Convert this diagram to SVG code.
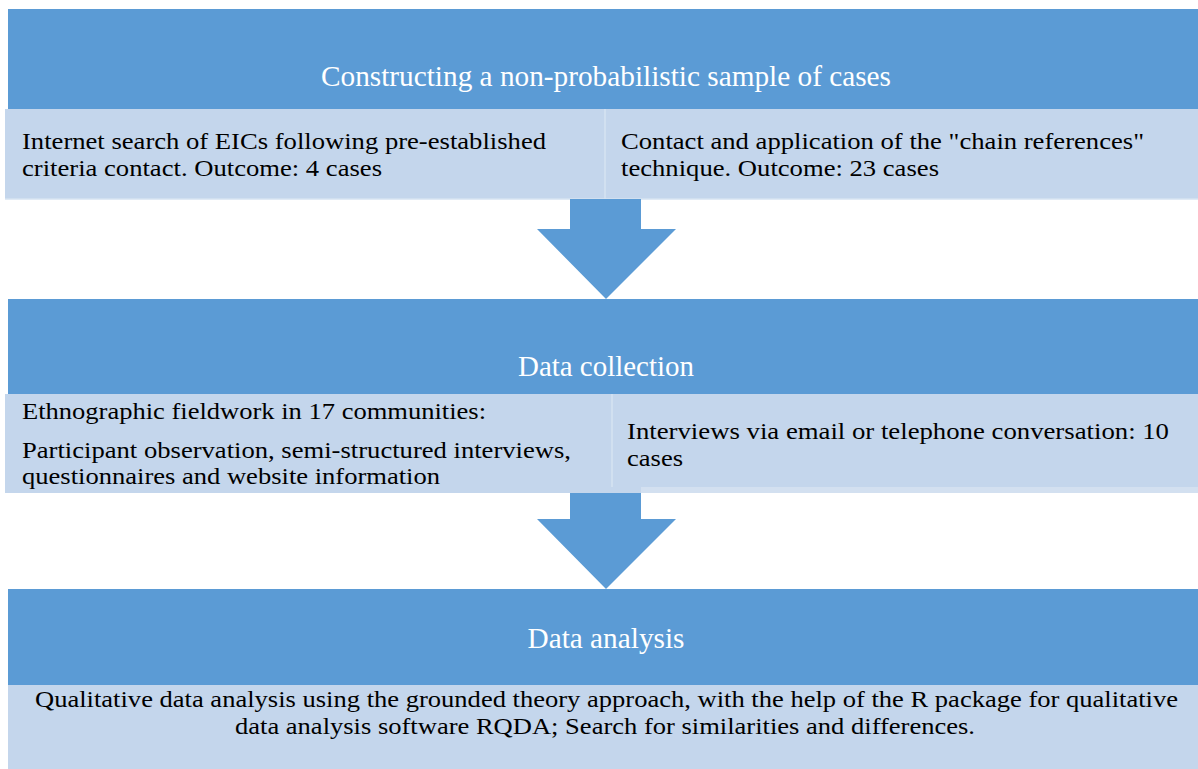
<svg xmlns="http://www.w3.org/2000/svg" width="1198" height="769" viewBox="0 0 1198 769">
<style>
.hdr{fill:#5b9bd5}
.sub{fill:#c4d6ec}
.sep{stroke:#d6e3f2;stroke-width:1.5}
.ttl{font-family:"Liberation Serif","Times New Roman",serif;font-size:29.4px;fill:#ffffff;text-anchor:middle}
.txt{font-family:"Liberation Serif","Times New Roman",serif;font-size:24px;fill:#000000}
.ctr{text-anchor:middle}
.arr{fill:#5b9bd5}
</style>
<rect width="1198" height="769" fill="#ffffff"/>
<g id="stage1">
<rect class="hdr" x="8" y="9" width="1190" height="100"/>
<text class="ttl" x="606" y="86" textLength="570" lengthAdjust="spacingAndGlyphs">Constructing a non-probabilistic sample of cases</text>
<rect class="sub" x="5" y="109" width="1193" height="90"/>
<line class="sep" x1="605" y1="109" x2="605" y2="199"/>
<line class="sep" x1="5" y1="199" x2="1198" y2="199"/>
<text class="txt" x="22" y="149" textLength="524" lengthAdjust="spacingAndGlyphs">Internet search of EICs following pre-established</text>
<text class="txt" x="22" y="176" textLength="360" lengthAdjust="spacingAndGlyphs">criteria contact. Outcome: 4 cases</text>
<text class="txt" x="621" y="149" textLength="523" lengthAdjust="spacingAndGlyphs">Contact and application of the "chain references"</text>
<text class="txt" x="621" y="176" textLength="318" lengthAdjust="spacingAndGlyphs">technique. Outcome: 23 cases</text>
</g>
<g id="stage2">
<rect class="hdr" x="8" y="299" width="1190" height="95"/>
<text class="ttl" x="606" y="376" textLength="176" lengthAdjust="spacingAndGlyphs">Data collection</text>
<rect class="sub" x="5" y="394" width="1193" height="99"/>
<rect x="641" y="487" width="557" height="6" fill="#d3e0f0"/>
<line class="sep" x1="612" y1="394" x2="612" y2="487"/>
<text class="txt" x="22" y="419" textLength="464" lengthAdjust="spacingAndGlyphs">Ethnographic fieldwork in 17 communities:</text>
<text class="txt" x="22" y="458" textLength="549" lengthAdjust="spacingAndGlyphs">Participant observation, semi-structured interviews,</text>
<text class="txt" x="22" y="484" textLength="418" lengthAdjust="spacingAndGlyphs">questionnaires and website information</text>
<text class="txt" x="627" y="439" textLength="542" lengthAdjust="spacingAndGlyphs">Interviews via email or telephone conversation: 10</text>
<text class="txt" x="627" y="466" textLength="56" lengthAdjust="spacingAndGlyphs">cases</text>
</g>
<g id="stage3">
<rect class="hdr" x="8" y="589" width="1190" height="96"/>
<text class="ttl" x="606" y="648" textLength="157" lengthAdjust="spacingAndGlyphs">Data analysis</text>
<rect class="sub" x="8" y="685" width="1190" height="84"/>
<text class="txt ctr" x="606.5" y="707" textLength="1143" lengthAdjust="spacingAndGlyphs">Qualitative data analysis using the grounded theory approach, with the help of the R package for qualitative</text>
<text class="txt ctr" x="605" y="734" textLength="740" lengthAdjust="spacingAndGlyphs">data analysis software RQDA; Search for similarities and differences.</text>
</g>
<g id="connectors">
<polygon class="arr" points="570,199 641,199 641,229 676,229 606,299 537,229 570,229"/>
<polygon class="arr" points="570,493 641,493 641,519 676,519 606,589 537,519 570,519"/>
</g>
</svg>
